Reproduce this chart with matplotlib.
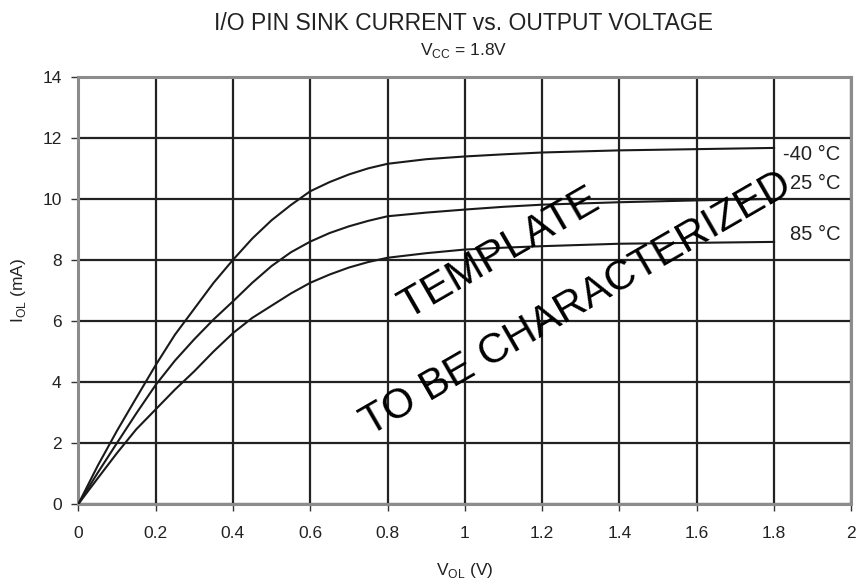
import matplotlib
matplotlib.use("Agg")
import matplotlib.pyplot as plt

plt.rcParams['font.family'] = ['Liberation Sans', 'DejaVu Sans']

# Output voltage (V) and sink current (mA) for each temperature
v_ol = [0.0, 0.05, 0.1, 0.15, 0.2, 0.25, 0.3, 0.35, 0.4, 0.45, 0.5, 0.55, 0.6,
        0.65, 0.7, 0.75, 0.8, 0.9, 1.0, 1.1, 1.2, 1.4, 1.6, 1.8]
i_m40 = [0.0, 1.25, 2.4, 3.48, 4.55, 5.55, 6.4, 7.25, 8.0, 8.7, 9.3, 9.8, 10.25,
         10.55, 10.8, 11.0, 11.15, 11.3, 11.39, 11.46, 11.52, 11.59, 11.63, 11.67]
i_25 = [0.0, 1.02, 2.0, 2.97, 3.9, 4.7, 5.4, 6.05, 6.64, 7.25, 7.8, 8.25, 8.6,
        8.88, 9.1, 9.28, 9.43, 9.55, 9.65, 9.74, 9.81, 9.89, 9.95, 10.0]
i_85 = [0.0, 0.84, 1.67, 2.45, 3.1, 3.75, 4.35, 5.0, 5.6, 6.1, 6.5, 6.9, 7.25,
        7.52, 7.75, 7.93, 8.07, 8.22, 8.34, 8.4, 8.45, 8.53, 8.56, 8.59]
series_labels = ['-40 °C', '25 °C', '85 °C']
x_ticks = [0, 0.2, 0.4, 0.6, 0.8, 1, 1.2, 1.4, 1.6, 1.8, 2]
x_tick_labels = ['0', '0.2', '0.4', '0.6', '0.8', '1', '1.2', '1.4', '1.6', '1.8', '2']
y_ticks = [0, 2, 4, 6, 8, 10, 12, 14]

fig = plt.figure(figsize=(8.57, 5.82), dpi=100)
ax = fig.add_axes([0.0914, 0.134, 0.902, 0.734])

ax.set_xlim(0, 2)
ax.set_ylim(0, 14)
ax.set_xticks(x_ticks)
ax.set_xticklabels(x_tick_labels)
ax.set_yticks(y_ticks)

ax.grid(True, color='#222222', linewidth=1.6)
ax.set_axisbelow(True)
for s in ax.spines.values():
    s.set_color('#8c8c8c')
    s.set_linewidth(2.2)
ax.tick_params(direction='out', length=5, width=1, color='#333333',
               labelsize=12.5, labelcolor='#222222')
ax.tick_params(axis='x', pad=11)
ax.tick_params(axis='y', pad=7)

for ys in (i_m40, i_25, i_85):
    ax.plot(v_ol, ys, color='#1a1a1a', linewidth=1.5, zorder=3)

ax.text(1.823, i_m40[-1] - 0.22, series_labels[0], fontsize=14.5, ha='left', va='center', color='#222222')
ax.text(1.84, i_25[-1] + 0.51, series_labels[1], fontsize=14.5, ha='left', va='center', color='#222222')
ax.text(1.84, i_85[-1] + 0.23, series_labels[2], fontsize=14.5, ha='left', va='center', color='#222222')

# Watermark
ax.text(1.09, 8.2, 'TEMPLATE', fontsize=31, rotation=30, ha='center', va='center',
        rotation_mode='anchor', color='black', zorder=4)
ax.text(1.29, 6.55, 'TO BE CHARACTERIZED', fontsize=30, rotation=30, ha='center', va='center',
        rotation_mode='anchor', color='black', zorder=4)

fig.text(0.541, 0.960, 'I/O PIN SINK CURRENT vs. OUTPUT VOLTAGE', fontsize=16.5,
         ha='center', va='center', color='#222222')
fig.text(0.541, 0.913, r'V$_{\mathregular{CC}}$ = 1.8V', fontsize=12.5, ha='center', va='center', color='#222222')
ax.set_xlabel(r'V$_{\mathregular{OL}}$ (V)', fontsize=12.5, color='#222222', labelpad=14)
ax.set_ylabel(r'I$_{\mathregular{OL}}$ (mA)', fontsize=12.5, color='#222222', labelpad=10)

fig.savefig('out.png', dpi=100)
